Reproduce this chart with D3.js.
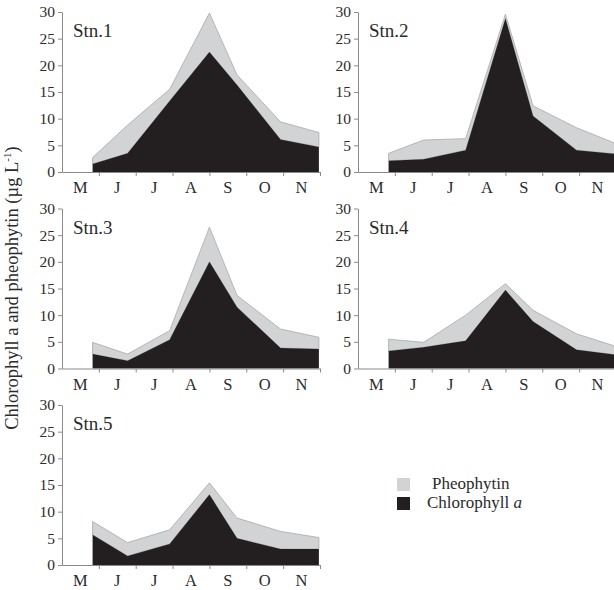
<!DOCTYPE html>
<html>
<head>
<meta charset="utf-8">
<script src="https://cdn.jsdelivr.net/npm/d3@7"></script>
<style>
  html, body { margin: 0; padding: 0; background: #fff; }
  svg { display: block; }
  svg text { font-family: "Liberation Serif", "Times New Roman", "DejaVu Serif", serif; }
</style>
</head>
<body>
<svg id="chart" width="614" height="590"></svg>
<script>
// Month categories on the x axis (May to November)
const months = ["M", "J", "J", "A", "S", "O", "N"];
// Sampling times, in months after the start of May
const sampleMonths = [0.83, 1.78, 2.92, 4.0, 4.75, 5.93, 6.97];
const yTicks = [0, 5, 10, 15, 20, 25, 30];
const stations = ["Stn.1", "Stn.2", "Stn.3", "Stn.4", "Stn.5"];

// Chlorophyll a (µg/L) per station
const chl1 = [1.5, 3.5, 13.3, 22.5, 16.3, 6.1, 4.7];
const chl2 = [2.1, 2.4, 4.1, 28.8, 10.5, 4.1, 3.4];
const chl3 = [2.7, 1.45, 5.4, 20.0, 11.5, 3.85, 3.65];
const chl4 = [3.3, 4.0, 5.2, 14.7, 8.8, 3.5, 2.6];
const chl5 = [5.65, 1.7, 3.95, 13.2, 5.0, 3.0, 3.0];

// Pheophytin (µg/L) per station, stacked on top of chlorophyll a
const pheo1 = [1.2, 5.3, 2.2, 7.3, 1.9, 3.3, 2.7];
const pheo2 = [1.4, 3.6, 2.15, 0.8, 1.9, 4.2, 2.0];
const pheo3 = [2.2, 1.25, 1.7, 6.5, 2.2, 3.55, 2.2];
const pheo4 = [2.2, 0.9, 4.8, 1.2, 2.1, 3.0, 1.6];
const pheo5 = [2.5, 2.5, 2.65, 2.2, 3.8, 3.3, 2.15];

const chlSeries = [chl1, chl2, chl3, chl4, chl5];
const pheoSeries = [pheo1, pheo2, pheo3, pheo4, pheo5];

const serif = '"Liberation Serif", "Times New Roman", "DejaVu Serif", serif';
const colors = { chl: "#231f20", pheo: "#d1d3d4", pheoLine: "#a7a9ab", axis: "#8a8a8a", text: "#2b2b2b" };

const svg = d3.select("#chart");
const panelW = 258, panelH = 160;
const origins = [[62, 12], [358, 12], [62, 208.5], [358, 208.5], [62, 405]];

const x = d3.scaleLinear().domain([0, months.length]).range([0, panelW]);
const y = d3.scaleLinear().domain([0, 30]).range([panelH, 0]);

stations.forEach((name, i) => {
  const g = svg.append("g").attr("transform", `translate(${origins[i][0]},${origins[i][1]})`);
  const rows = sampleMonths.map((m, k) => ({ m, chl: chlSeries[i][k], pheo: pheoSeries[i][k] }));
  const stacked = d3.stack().keys(["chl", "pheo"])(rows);

  const area = d3.area()
    .x(d => x(d.data.m))
    .y0(d => y(d[0]))
    .y1(d => y(d[1]));

  // pheophytin layer (upper)
  g.append("path").datum(stacked[1])
    .attr("d", area)
    .attr("fill", colors.pheo)
    .attr("stroke", colors.pheoLine)
    .attr("stroke-width", 0.8)
    .attr("stroke-linejoin", "round");
  // chlorophyll a layer (lower)
  g.append("path").datum(stacked[0])
    .attr("d", area)
    .attr("fill", colors.chl);

  // y axis
  const yAxis = g.append("g")
    .call(d3.axisLeft(y).tickValues(yTicks).tickSize(4).tickPadding(3).tickSizeOuter(0));
  yAxis.attr("font-family", null);
  yAxis.select(".domain").attr("stroke", colors.axis);
  yAxis.selectAll(".tick line").attr("stroke", colors.axis);
  yAxis.selectAll("text").attr("fill", colors.text)
    .style("font-family", serif).style("font-size", "15.5px");

  // x axis: ticks at month boundaries, labels centred in each month
  const xAxis = g.append("g").attr("transform", `translate(0,${panelH})`)
    .call(d3.axisBottom(x).tickValues(d3.range(1, months.length + 1)).tickSize(4).tickFormat("").tickSizeOuter(0));
  xAxis.select(".domain").attr("stroke", colors.axis);
  xAxis.selectAll(".tick line").attr("stroke", colors.axis);

  g.append("g").selectAll("text")
    .data(months)
    .join("text")
    .attr("x", (d, k) => x(k + 0.5))
    .attr("y", panelH + 21)
    .attr("text-anchor", "middle")
    .attr("fill", colors.text)
    .style("font-family", serif).style("font-size", "16.5px")
    .text(d => d);

  // station label
  g.append("text")
    .attr("x", 11)
    .attr("y", 25)
    .attr("fill", colors.text)
    .style("font-family", serif).style("font-size", "19px")
    .text(name);
});

// shared y-axis title
const yTitle = svg.append("text")
  .attr("transform", "translate(18,288) rotate(-90)")
  .attr("text-anchor", "middle")
  .attr("fill", colors.text)
  .style("font-family", serif).style("font-size", "18.5px");
yTitle.append("tspan").text("Chlorophyll a and pheophytin (µg L");
yTitle.append("tspan").style("font-size", "11px").attr("dy", -7).text("-1");
yTitle.append("tspan").attr("dy", 7).text(")");

// legend
const legendItems = [
  { label: "Pheophytin", color: colors.pheo, italic: null, tx: 432 },
  { label: "Chlorophyll ", color: colors.chl, italic: "a", tx: 427 }
];
const legend = svg.append("g");
legendItems.forEach((item, k) => {
  const yy = 478 + k * 19;
  legend.append("rect")
    .attr("x", 397).attr("y", yy)
    .attr("width", 13).attr("height", 13)
    .attr("fill", item.color);
  const t = legend.append("text")
    .attr("x", item.tx).attr("y", yy + 11)
    .attr("fill", colors.text)
    .style("font-family", serif).style("font-size", "17px");
  t.append("tspan").text(item.label);
  if (item.italic) t.append("tspan").style("font-style", "italic").text(item.italic);
});
</script>
</body>
</html>
